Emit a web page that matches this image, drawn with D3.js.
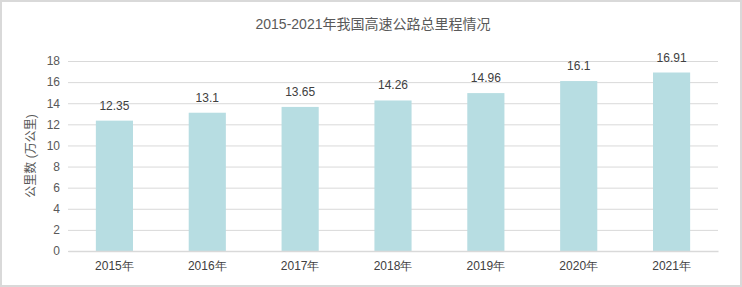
<!DOCTYPE html>
<meta charset="utf-8">
<script src="https://d3js.org/d3.v7.min.js"></script>
<style>
  body { margin: 0; }
  svg { display: block; font-family: "Liberation Sans", "Noto Sans CJK SC", sans-serif; }
</style>
<div id="chart"></div>
<script>
// data
var years = ["2015年", "2016年", "2017年", "2018年", "2019年", "2020年", "2021年"];
var mileage = [12.35, 13.1, 13.65, 14.26, 14.96, 16.1, 16.91];
var yTicks = [0, 2, 4, 6, 8, 10, 12, 14, 16, 18];

var W = 742, H = 287;
var margin = {top: 61, right: 24, bottom: 36, left: 68},
    width = W - margin.left - margin.right,
    height = H - margin.top - margin.bottom;

var svg = d3.select("#chart").append("svg")
    .attr("width", W)
    .attr("height", H);

// outer border
svg.append("rect")
    .attr("x", 1).attr("y", 1)
    .attr("width", W - 2).attr("height", H - 2)
    .attr("fill", "#fff")
    .attr("stroke", "#d9d9d9")
    .attr("stroke-width", 2);

svg.append("text")
    .attr("x", W / 2 + 2)
    .attr("y", 29)
    .attr("text-anchor", "middle")
    .attr("fill", "#595959")
    .style("font-size", "14px")
    .text("2015-2021年我国高速公路总里程情况");

var g = svg.append("g")
    .attr("transform", "translate(" + margin.left + "," + margin.top + ")");

var x = d3.scaleBand()
    .domain(years)
    .range([0, width])
    .paddingInner(0.6)
    .paddingOuter(0.3);

var y = d3.scaleLinear()
    .domain([0, 18])
    .range([height, 0]);

// gridlines + y labels
var yAxis = g.append("g")
    .call(d3.axisLeft(y).tickValues(yTicks).tickSize(-width).tickPadding(8));
yAxis.select(".domain").remove();
yAxis.selectAll("line").attr("stroke", "#d9d9d9");
yAxis.selectAll("text")
    .attr("fill", "#595959")
    .style("font-size", "12px");

// bars
g.selectAll("rect.bar")
  .data(mileage)
  .enter()
  .append("rect")
    .attr("class", "bar")
    .attr("x", function(d, i) { return x(years[i]); })
    .attr("y", function(d) { return y(d); })
    .attr("width", x.bandwidth())
    .attr("height", function(d) { return height - y(d); })
    .attr("fill", "#b7dde2");

// value labels
g.selectAll("text.val")
  .data(mileage)
  .enter()
  .append("text")
    .attr("class", "val")
    .attr("x", function(d, i) { return x(years[i]) + x.bandwidth() / 2; })
    .attr("y", function(d) { return y(d) - 11; })
    .attr("text-anchor", "middle")
    .attr("fill", "#404040")
    .style("font-size", "12px")
    .text(function(d) { return d; });

// x axis
var xAxis = g.append("g")
    .attr("transform", "translate(0," + height + ")")
    .call(d3.axisBottom(x).tickSize(0).tickPadding(10));
xAxis.select(".domain").attr("stroke", "#d9d9d9").attr("stroke-width", 1.5);
xAxis.selectAll("text")
    .attr("fill", "#404040")
    .style("font-size", "12px");

// y title
svg.append("text")
    .attr("transform", "translate(35," + (margin.top + height / 2) + ") rotate(-90)")
    .attr("text-anchor", "middle")
    .attr("fill", "#595959")
    .style("font-size", "12px")
    .text("公里数 (万公里)");
</script>
